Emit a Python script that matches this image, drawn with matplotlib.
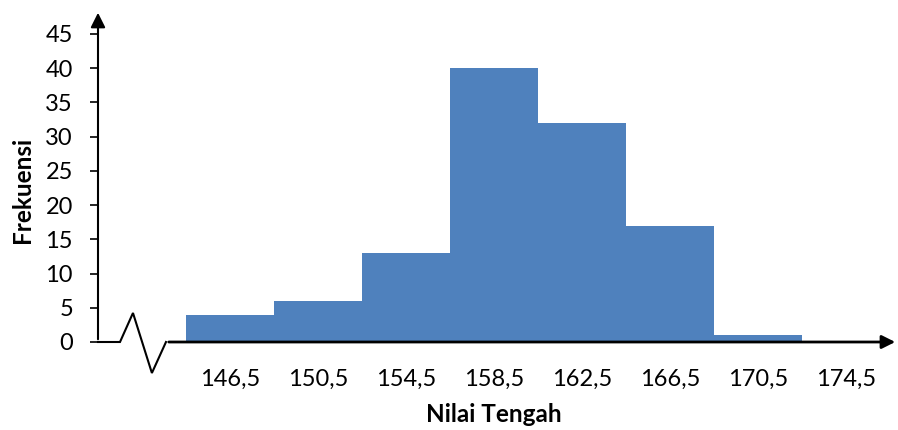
import matplotlib.pyplot as plt
import numpy as np

plt.rcParams['font.family'] = ['Lato', 'DejaVu Sans']

midpoints = [146.5, 150.5, 154.5, 158.5, 162.5, 166.5, 170.5, 174.5]
tick_labels = ["146,5", "150,5", "154,5", "158,5", "162,5", "166,5", "170,5", "174,5"]
freq = [4, 6, 13, 40, 32, 17, 1, 0]
yticks = [0, 5, 10, 15, 20, 25, 30, 35, 40, 45]
class_width = 4

fig = plt.figure(figsize=(8.98, 4.3), dpi=100)
ax = fig.add_axes([98/898, 88/430, 800/898, 332/430])
ax.set_xlim(140.5, 140.5 + 800/22)
ax.set_ylim(0, 48.5)

ax.bar(midpoints, freq, width=class_width, color='#4F81BD', edgecolor='none', zorder=2)

for s in ax.spines.values():
    s.set_visible(False)

# y axis with arrow
ax.annotate('', xy=(140.5, 48.5), xytext=(140.5, 0),
            arrowprops=dict(arrowstyle='-|>', color='black', lw=1.5, mutation_scale=22),
            annotation_clip=False)
# x axis with break
zx = [140.5, 141.5, 142.09, 142.95, 143.59]
zy = [0, 0, 4.24, -4.53, 0]
ax.plot(zx, zy, color='black', lw=1.5, clip_on=False, zorder=3, solid_joinstyle='miter')
ax.annotate('', xy=(140.5 + 800/22, 0), xytext=(143.59, 0),
            arrowprops=dict(arrowstyle='-|>', color='black', lw=2, mutation_scale=20),
            annotation_clip=False, zorder=3)

ax.set_yticks(yticks)
ax.set_yticklabels([str(v) for v in yticks], fontsize=17)
ax.tick_params(axis='y', length=6, width=1.2, pad=12)
ax.set_xticks(midpoints)
ax.set_xticklabels(tick_labels, fontsize=17)
ax.tick_params(axis='x', length=0, pad=19)

fig.text(494/898, 1 - 414/430, 'Nilai Tengah', fontsize=17.5, fontweight='bold',
         ha='center', va='center')
fig.text(23/898, 1 - 190/430, 'Frekuensi', fontsize=17.5, fontweight='bold',
         ha='center', va='center', rotation=90)

fig.savefig('out.png', dpi=100)
